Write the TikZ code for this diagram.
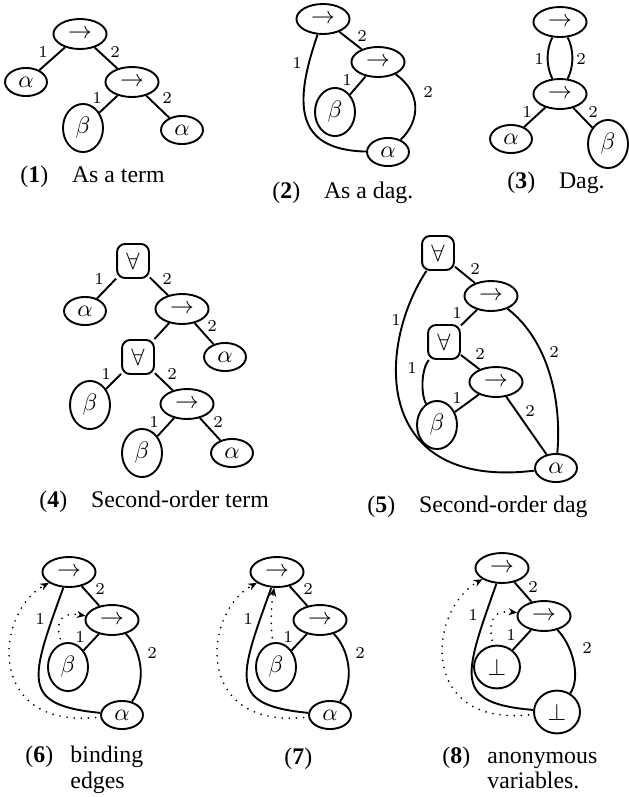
\documentclass[tikz,border=0pt]{standalone}
\usepackage{fontspec}
\setmainfont{Liberation Serif}
\usetikzlibrary{shapes.geometric,arrows.meta}
\begin{document}
\begin{tikzpicture}[x=0.42pt,y=-0.42pt,
  fn/.style={ellipse,draw,thick,minimum width=22.3pt,minimum height=12.6pt,inner sep=0pt},
  va/.style={ellipse,draw,thick,minimum width=17.6pt,minimum height=11.8pt,inner sep=0pt},
  vb/.style={ellipse,draw,thick,minimum width=16.8pt,minimum height=20.2pt,inner sep=0pt},
  vbot/.style={ellipse,draw,thick,minimum width=19.3pt,minimum height=18pt,inner sep=0pt},
  fa/.style={rectangle,rounded corners=3.4pt,draw,thick,minimum width=13.4pt,minimum height=14.3pt,inner sep=0pt},
  lab/.style={font=\scriptsize,inner sep=0pt},
  captext/.style={anchor=base west,inner sep=0pt},
  conn/.style={thick},
  bind/.style={line width=0.8pt,dash pattern=on 0pt off 3pt,line cap=round,shorten <=2pt,-{Stealth[length=3.6pt,width=3pt]}}
]
\useasboundingbox (0,0) rectangle (629,797);

% ---------- (1) ----------
\node[fn] (t1) at (80,34) {$\rightarrow$};
\node[va] (a1) at (26,82) {$\alpha$};
\node[fn] (f1) at (132,82) {$\rightarrow$};
\node[vb] (b1) at (83,128) {$\beta$};
\node[va] (c1) at (182,130) {$\alpha$};
\draw[conn] (t1) -- (a1);
\draw[conn] (t1) -- (f1);
\draw[conn] (f1) -- (b1);
\draw[conn] (f1) -- (c1);
\node[lab] (l1a) at (43,52) {$1$};
\node[lab] (l1b) at (115,52) {$2$};
\node[lab] (l1c) at (97,98) {$1$};
\node[lab] (l1d) at (167,98) {$2$};
\node[captext] (cap1) at (20,182) {(\textbf{1})\quad As a term};

% ---------- (2) ----------
\node[fn] (t2) at (323,19) {$\rightarrow$};
\node[fn] (f2) at (378,62) {$\rightarrow$};
\node[vb] (b2) at (335,112) {$\beta$};
\node[va] (a2) at (388,152) {$\alpha$};
\draw[conn] (t2) -- (f2);
\draw[conn] (f2) -- (b2);
\draw[conn] (t2) .. controls (295,100) and (292,150) .. (a2);
\draw[conn] (f2) .. controls (421,92) and (421,120) .. (a2);
\node[lab] (l2a) at (297,63) {$1$};
\node[lab] (l2b) at (362,36) {$2$};
\node[lab] (l2c) at (347,80) {$1$};
\node[lab] (l2d) at (428,92) {$2$};
\node[captext] (cap2) at (272,198) {(\textbf{2})\quad As a dag.};

% ---------- (3) ----------
\node[fn] (t3) at (560,22) {$\rightarrow$};
\node[fn] (m3) at (560,94) {$\rightarrow$};
\node[va] (a3) at (511,139) {$\alpha$};
\node[vb] (b3) at (608,144) {$\beta$};
\draw[conn] (t3) .. controls (546,50) and (546,66) .. (m3);
\draw[conn] (t3) .. controls (574,50) and (574,66) .. (m3);
\draw[conn] (m3) -- (a3);
\draw[conn] (m3) -- (b3);
\node[lab] (l3a) at (539,59) {$1$};
\node[lab] (l3b) at (581,59) {$2$};
\node[lab] (l3c) at (527,112) {$1$};
\node[lab] (l3d) at (593,112) {$2$};
\node[captext] (cap3) at (507,188) {(\textbf{3})\quad Dag.};

% ---------- (4) ----------
\node[fa] (q4) at (133,261) {$\forall$};
\node[va] (a4) at (85,311) {$\alpha$};
\node[fn] (f4) at (182,309) {$\rightarrow$};
\node[fa] (r4) at (138,357) {$\forall$};
\node[va] (c4) at (225,357) {$\alpha$};
\node[vb] (b4) at (90,405) {$\beta$};
\node[fn] (g4) at (187,404) {$\rightarrow$};
\node[vb] (d4) at (142,453) {$\beta$};
\node[va] (e4) at (232,453) {$\alpha$};
\draw[conn] (q4) -- (a4);
\draw[conn] (q4) -- (f4);
\draw[conn] (f4) -- (r4);
\draw[conn] (f4) -- (c4);
\draw[conn] (r4) -- (b4);
\draw[conn] (r4) -- (g4);
\draw[conn] (g4) -- (d4);
\draw[conn] (g4) -- (e4);
\node[lab] (l4a) at (99,279) {$1$};
\node[lab] (l4b) at (167,279) {$2$};
\node[lab] (l4c) at (212,326) {$2$};
\node[lab] (l4d) at (106,374) {$1$};
\node[lab] (l4e) at (172,374) {$2$};
\node[lab] (l4f) at (154,422) {$1$};
\node[lab] (l4g) at (218,422) {$2$};
\node[captext] (cap4) at (39,507) {(\textbf{4})\quad Second-order term};

% ---------- (5) ----------
\node[fa] (q5) at (438,253) {$\forall$};
\node[fn] (f5) at (491,296) {$\rightarrow$};
\node[fa] (r5) at (444,342) {$\forall$};
\node[fn] (g5) at (496,382) {$\rightarrow$};
\node[vb] (b5) at (437,425) {$\beta$};
\node[va] (a5) at (556,468) {$\alpha$};
\draw[conn] (q5) -- (f5);
\draw[conn] (f5) -- (r5);
\draw[conn] (r5) -- (g5);
\draw[conn] (g5) -- (b5);
\draw[conn] (g5) -- (a5);
\draw[conn] (q5) .. controls (375,350) and (375,490) .. (a5);
\draw[conn] (f5) .. controls (548,340) and (562,400) .. (a5);
\draw[conn] (r5) .. controls (422,368) and (420,392) .. (b5);
\node[lab] (l5a) at (475,269) {$2$};
\node[lab] (l5b) at (396,320) {$1$};
\node[lab] (l5c) at (457,313) {$1$};
\node[lab] (l5d) at (554,352) {$2$};
\node[lab] (l5e) at (480,354) {$2$};
\node[lab] (l5f) at (412,368) {$1$};
\node[lab] (l5g) at (457,398) {$1$};
\node[lab] (l5h) at (530,411) {$2$};
\node[captext] (cap5) at (367,512) {(\textbf{5})\quad Second-order dag};

% ---------- (6) ----------
\node[fn] (t6) at (69,572) {$\rightarrow$};
\node[fn] (f6) at (112,620) {$\rightarrow$};
\node[vb] (b6) at (68,667) {$\beta$};
\node[va] (a6) at (122,715) {$\alpha$};
\draw[conn] (t6) -- (f6);
\draw[conn] (f6) -- (b6);
\draw[conn] (t6) .. controls (30,680) and (20,705) .. (a6);
\draw[conn] (f6) .. controls (140,648) and (148,680) .. (a6);
\draw[bind] (a6) .. controls (-15,728) and (-5,612) .. (t6);
\draw[bind] (b6) .. controls (55,620) and (62,612) .. (f6);
\node[lab] (l6a) at (100,589) {$2$};
\node[lab] (l6b) at (40,619) {$1$};
\node[lab] (l6c) at (80,637) {$1$};
\node[lab] (l6d) at (152,653) {$2$};
\node[captext] (cap6a) at (25,762) {(\textbf{6})};
\node[captext] (cap6b) at (70,762) {binding};
\node[captext] (cap6c) at (70,788) {edges};

% ---------- (7) ----------
\begin{scope}[shift={(208,0)}]
\node[fn] (t7) at (69,572) {$\rightarrow$};
\node[fn] (f7) at (112,620) {$\rightarrow$};
\node[vb] (b7) at (68,667) {$\beta$};
\node[va] (a7) at (122,715) {$\alpha$};
\draw[conn] (t7) -- (f7);
\draw[conn] (f7) -- (b7);
\draw[conn] (t7) .. controls (30,680) and (20,705) .. (a7);
\draw[conn] (f7) .. controls (140,648) and (148,680) .. (a7);
\draw[bind] (a7) .. controls (-15,728) and (-5,612) .. (t7);
\draw[bind] (b7) .. controls (62,620) and (64,600) .. (t7);
\node[lab] (l7a) at (100,589) {$2$};
\node[lab] (l7b) at (40,619) {$1$};
\node[lab] (l7c) at (80,637) {$1$};
\node[lab] (l7d) at (152,653) {$2$};
\end{scope}
\node[captext] (cap7) at (284,764) {(\textbf{7})};

% ---------- (8) ----------
\node[fn] (t8) at (502,568) {$\rightarrow$};
\node[fn] (f8) at (544,616) {$\rightarrow$};
\node[vbot] (p8) at (497,667) {$\bot$};
\node[vbot] (q8) at (557,712) {$\bot$};
\draw[conn] (t8) -- (f8);
\draw[conn] (f8) -- (p8);
\draw[conn] (t8) .. controls (463,678) and (453,703) .. (q8);
\draw[conn] (f8) .. controls (573,646) and (581,678) .. (q8);
\draw[bind] (q8) .. controls (418,726) and (428,610) .. (t8);
\draw[bind] (p8) .. controls (488,618) and (495,610) .. (f8);
\node[lab] (l8a) at (533,587) {$2$};
\node[lab] (l8b) at (473,615) {$1$};
\node[lab] (l8c) at (511,635) {$1$};
\node[lab] (l8d) at (587,648) {$2$};
\node[captext] (cap8a) at (442,763) {(\textbf{8})};
\node[captext] (cap8b) at (487,763) {anonymous};
\node[captext] (cap8c) at (487,788) {variables.};
\end{tikzpicture}
\end{document}
